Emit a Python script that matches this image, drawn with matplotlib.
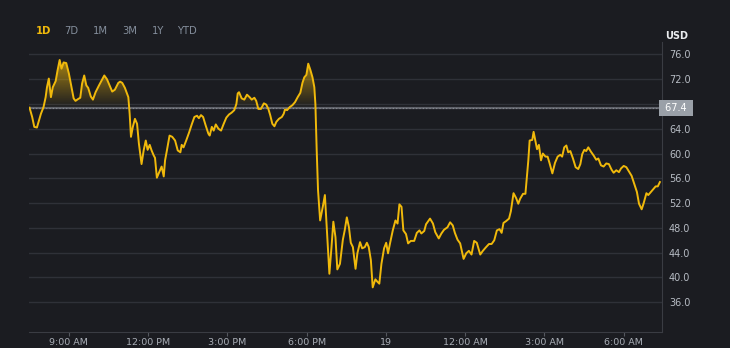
import numpy as np
import matplotlib
matplotlib.use("Agg")
from matplotlib import pyplot as plt

# time in hours from midnight of day 18 (24 = midnight), price in USD
hours = [7.51, 7.61, 7.69, 7.79, 7.86, 7.94, 8.04, 8.12, 8.17, 8.24, 8.32, 8.39, 8.50, 8.57, 8.65,
         8.72, 8.80, 8.90, 9.00, 9.10, 9.18, 9.25, 9.35, 9.43, 9.50, 9.58, 9.66, 9.73, 9.83, 9.91,
         10.01, 10.14, 10.24, 10.34, 10.44, 10.54, 10.64, 10.74, 10.87, 10.94, 11.02, 11.12, 11.25,
         11.30, 11.35, 11.42, 11.50, 11.58, 11.65, 11.75, 11.83, 11.91, 11.98, 12.06, 12.13, 12.21,
         12.26, 12.33, 12.44, 12.51, 12.59, 12.64, 12.71, 12.81, 12.91, 13.02, 13.12, 13.22, 13.27,
         13.34, 13.44, 13.55, 13.65, 13.75, 13.85, 13.92, 14.00, 14.08, 14.18, 14.28, 14.33, 14.41,
         14.48, 14.56, 14.66, 14.76, 14.86, 14.96, 15.06, 15.16, 15.26, 15.34, 15.39, 15.44, 15.54,
         15.64, 15.74, 15.84, 15.92, 16.02, 16.09, 16.17, 16.27, 16.38, 16.47, 16.55, 16.62, 16.70,
         16.78, 16.85, 16.95, 17.06, 17.13, 17.18, 17.26, 17.36, 17.46, 17.56, 17.66, 17.76, 17.84,
         17.91, 17.99, 18.06, 18.14, 18.22, 18.29, 18.33, 18.38, 18.43, 18.51, 18.61, 18.69, 18.76,
         18.86, 18.94, 19.01, 19.09, 19.16, 19.26, 19.37, 19.44, 19.52, 19.60, 19.67, 19.75, 19.85,
         19.92, 20.02, 20.10, 20.20, 20.28, 20.35, 20.43, 20.50, 20.60, 20.68, 20.75, 20.83, 20.93,
         21.01, 21.08, 21.16, 21.26, 21.36, 21.44, 21.51, 21.59, 21.66, 21.76, 21.84, 21.94, 22.07,
         22.17, 22.27, 22.34, 22.45, 22.52, 22.67, 22.78, 22.87, 23.00, 23.10, 23.20, 23.33, 23.43,
         23.53, 23.61, 23.71, 23.81, 23.94, 24.04, 24.14, 24.24, 24.34, 24.44, 24.57, 24.67, 24.77,
         24.90, 25.00, 25.10, 25.20, 25.30, 25.38, 25.45, 25.55, 25.66, 25.73, 25.83, 25.93, 26.01,
         26.08, 26.19, 26.28, 26.39, 26.44, 26.54, 26.59, 26.66, 26.72, 26.79, 26.87, 26.94, 27.04,
         27.12, 27.19, 27.30, 27.40, 27.50, 27.60, 27.67, 27.75, 27.83, 27.90, 27.98, 28.08, 28.18,
         28.28, 28.36, 28.43, 28.51, 28.58, 28.66, 28.76, 28.86, 28.96, 29.04, 29.14, 29.24, 29.34,
         29.44, 29.54, 29.62, 29.72, 29.82, 29.90, 30.00, 30.10, 30.20, 30.30, 30.40, 30.50, 30.58,
         30.68, 30.75, 30.86, 30.93, 31.03, 31.13, 31.21, 31.29, 31.37]
prices = [67.4, 65.9, 64.3, 64.2, 65.2, 66.4, 67.5, 69.1, 70.7, 72.1, 69.1, 70.7, 71.7, 73.4, 75.1,
          73.7, 74.7, 74.6, 72.9, 70.7, 68.9, 68.5, 68.8, 69.0, 71.3, 72.6, 71.0, 70.6, 69.2, 68.7,
          69.9, 71.0, 71.8, 72.6, 72.0, 71.0, 70.0, 70.3, 71.4, 71.6, 71.4, 70.6, 69.1,
          66.4, 62.7, 64.3, 65.6, 64.8, 61.6, 58.3, 60.5, 62.1, 60.6, 61.4, 60.5, 59.7,
          59.3, 56.1, 57.2, 57.9, 56.3, 58.9, 60.5, 62.9, 62.7, 62.1, 60.5, 60.2, 61.4,
          61.0, 62.1, 63.4, 64.7, 65.9, 66.1, 65.7, 66.2, 65.9, 64.5, 63.2, 62.9, 64.3,
          63.7, 64.7, 64.0, 63.7, 64.8, 65.8, 66.3, 66.6, 67.0, 68.0, 69.7, 69.9, 68.9,
          68.7, 69.5, 69.1, 68.7, 69.0, 68.5, 67.2, 67.2, 68.1, 67.9, 67.2, 66.2, 64.8,
          64.4, 65.1, 65.6, 65.9, 66.4, 67.1, 67.0, 67.5, 67.8, 68.3, 69.1, 69.8, 71.4,
          72.3, 72.7, 74.5, 73.5, 72.3, 70.7, 68.0, 60.5, 54.1, 49.2, 51.4, 53.3, 48.1,
          40.6, 44.9, 49.0, 46.5, 41.3, 42.2, 46.1, 47.6, 49.7, 48.1, 45.6, 44.9, 41.4,
          43.9, 45.7, 44.7, 44.9, 45.6, 44.9, 42.8, 38.4, 39.7, 39.3, 39.0, 42.2, 44.7,
          45.6, 43.9, 45.6, 47.6, 49.2, 48.7, 51.8, 51.4, 47.6, 47.0, 45.5, 45.9, 45.9,
          47.2, 47.6, 47.1, 47.5, 48.6, 49.5, 48.7, 47.3, 46.3, 47.1, 47.7, 48.1, 48.9,
          48.4, 47.2, 46.1, 45.5, 43.0, 43.9, 44.3, 43.7, 45.9, 45.6, 43.7, 44.3, 44.8,
          45.4, 45.4, 46.0, 47.6, 47.8, 47.2, 48.8, 49.1, 49.5, 50.7, 53.6, 52.8, 51.9,
          52.7, 53.5, 53.5, 58.9, 62.1, 62.2, 63.5, 62.0, 60.7, 61.4, 58.9, 60.0, 59.5,
          59.5, 58.5, 56.8, 58.5, 59.5, 59.8, 59.5, 61.0, 61.3, 60.2, 60.4, 59.2, 57.8,
          57.5, 58.3, 59.9, 60.6, 60.4, 61.0, 60.3, 59.7, 59.0, 59.2, 58.1, 57.9, 58.4,
          58.3, 57.4, 56.9, 57.3, 57.0, 57.6, 58.0, 57.8, 57.1, 56.4, 55.1, 53.8, 51.9,
          51.0, 51.9, 53.6, 53.3, 53.8, 54.3, 54.7, 54.7, 55.4]

ref_price = 67.4
y_ticks = [36, 40, 44, 48, 52, 56, 60, 64, 68, 72, 76]
x_ticks = [9, 12, 15, 18, 21, 24, 27, 30]
x_labels = ["9:00 AM", "12:00 PM", "3:00 PM", "6:00 PM", "19", "12:00 AM", "3:00 AM", "6:00 AM"]
ranges = ["1D", "7D", "1M", "3M", "1Y", "YTD"]

bg = "#1b1c21"
gold = "#f0b90b"
grey = "#9aa0a8"

fig = plt.figure(figsize=(7.3, 3.48), dpi=100, facecolor=bg)
ax = fig.add_axes([29/730, 16/348, 633/730, 290/348], facecolor=bg)

for t in y_ticks:
    ax.axhline(t, color="#2f3138", lw=1.0, zorder=0)

# reference price line
ax.axhline(ref_price, color="#5f626a", lw=1.6, zorder=1)

x = np.array(hours)
y = np.array(prices)

# gradient fill above the reference price
fill = ax.fill_between(x, y, ref_price, where=y > ref_price, interpolate=True,
                       color="none", lw=0, zorder=2)
grad = np.zeros((100, 2, 4))
rgb = matplotlib.colors.to_rgb(gold)
grad[..., 0], grad[..., 1], grad[..., 2] = rgb
grad[..., 3] = np.linspace(0.7, 0.0, 100)[:, None]
for path in fill.get_paths():
    im = ax.imshow(grad, extent=[x[0], x[-1], ref_price, 75.5], origin="upper",
                   aspect="auto", zorder=2, interpolation="bilinear")
    im.set_clip_path(path, transform=ax.transData)
ax.set_xlim(7.49, 31.45)
ax.set_ylim(31.2, 78.0)

ax.axhline(ref_price, color="#8a8d94", lw=0.8, ls=(0, (1, 2)), zorder=3)

ax.plot(x, y, color=gold, lw=1.4, zorder=4, solid_joinstyle="round")

for s in ["top", "left"]:
    ax.spines[s].set_visible(False)
ax.spines["right"].set_color("#3a3c43")
ax.spines["bottom"].set_color("#3a3c43")

ax.yaxis.tick_right()
ax.set_yticks(y_ticks)
ax.set_yticklabels(["" if t == 68 else f"{t:.1f}" for t in y_ticks])
ax.tick_params(axis="y", length=0, pad=5, labelsize=7, labelcolor="#b7bcc4")
ax.set_xticks(x_ticks)
ax.set_xticklabels(x_labels)
ax.tick_params(axis="x", length=3, width=0.8, color="#55585f", pad=1.5, labelsize=6.8,
               labelcolor="#a9aeb6")

ax.text(1.0, ref_price, " 67.4 ", transform=ax.get_yaxis_transform(), ha="left", va="center",
        fontsize=7, color="white",
        bbox=dict(boxstyle="square,pad=0.3", fc=grey, ec="none"))

fig.text(665/730, 1 - 36/348, "USD", fontsize=7, color="#eaecef", fontweight="bold",
         ha="left", va="center")

xs = [36, 64, 93, 122, 152, 177]
for lab, xp in zip(ranges, xs):
    fig.text(xp/730, 1 - 31/348, lab, fontsize=7.2, ha="left", va="center",
             color=gold if lab == "1D" else "#848e9c", fontweight="bold" if lab == "1D" else "normal")

fig.savefig("out.png", dpi=100, facecolor=bg)
